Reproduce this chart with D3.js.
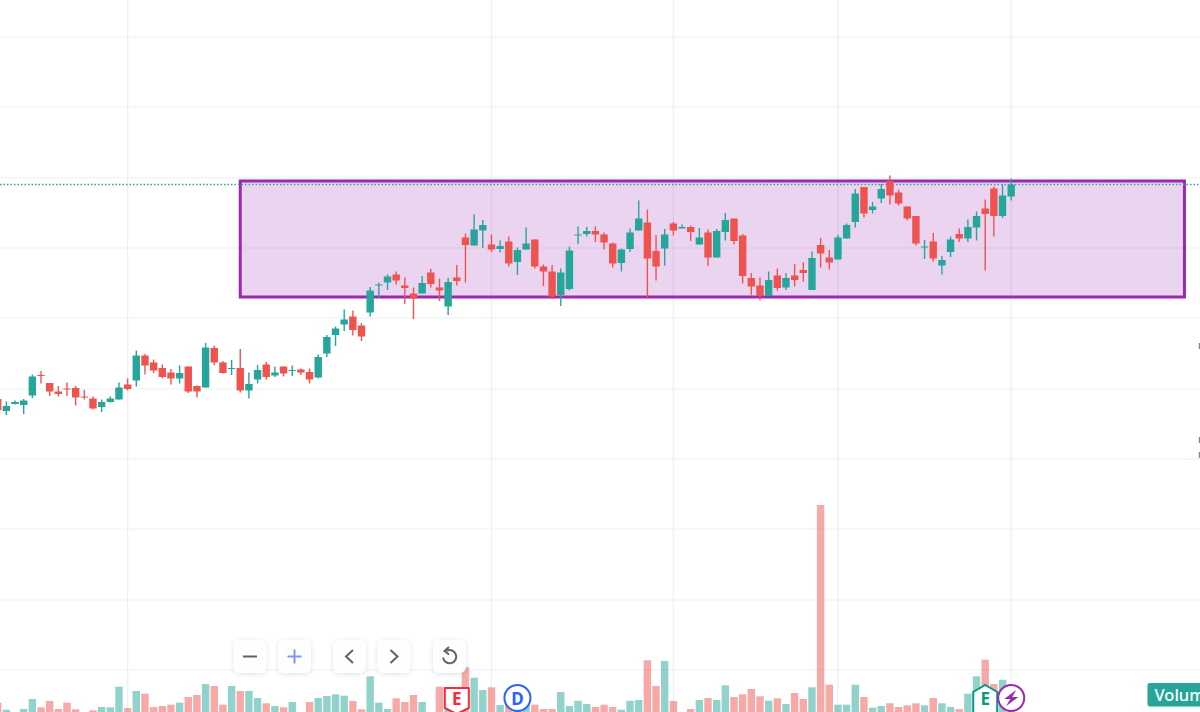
<!DOCTYPE html>
<html>
<head>
<meta charset="utf-8">
<title>Candles</title>
<script src="https://cdnjs.cloudflare.com/ajax/libs/d3/7.8.5/d3.min.js"></script>
<style>
html, body { margin: 0; padding: 0; background: #fff; overflow: hidden; }
svg { display: block; }
</style>
</head>
<body>
<div id="chart"></div>
<script>
var opens = [626,602,616,614,633,674,658,641,647,648,631,627,610,620,625,655,663,713,699,688,679,667,691,652,649,728,699,686,688,643,665,695,673,691,682,685,680,669,717,754,775,791,773,799,853,859,875,853,837,837,879,849,811,869,949,933,963,935,926,941,900,925,945,891,881,834,846,953,956,962,955,937,898,926,963,979,922,927,977,967,970,935,959,909,960,987,953,868,853,832,873,849,873,884,844,934,909,905,947,980,1050,1004,1027,1062,1039,1011,992,929,941,893,920,956,947,969,1007,1047,992,1031];
var highs = [628,621,623,626,675,682,658,652,659,652,644,631,625,631,659,667,723,716,705,695,686,693,691,653,738,733,702,704,726,679,694,700,691,691,693,687,687,715,754,771,805,803,778,850,859,875,881,869,849,872,886,867,868,894,957,995,984,955,943,951,929,969,945,895,894,887,931,971,970,971,959,939,927,967,1023,1005,954,966,980,975,973,968,965,966,998,987,956,878,869,881,887,878,896,899,921,948,924,954,977,1046,1050,1020,1056,1073,1045,1011,992,944,958,912,951,967,985,1001,1025,1051,1055,1067];
var lows = [602,594,615,596,628,657,632,631,632,613,625,605,600,619,625,643,651,675,678,667,655,657,638,629,649,694,677,674,639,627,657,665,670,671,672,674,657,667,710,732,762,753,742,791,829,844,855,816,786,837,849,822,794,853,859,933,928,920,919,891,874,925,887,852,826,812,843,936,951,940,925,889,881,920,963,827,863,893,953,967,942,935,892,909,943,935,857,834,823,832,843,844,851,861,844,889,885,905,947,969,989,997,1018,1015,1013,983,933,906,901,875,910,940,940,943,883,951,988,1023];
var closes = [604,612,620,623,671,672,641,636,645,629,629,607,620,627,649,646,713,693,683,670,667,678,641,641,729,699,678,688,643,656,684,670,679,677,684,679,665,710,750,767,785,764,751,843,855,871,863,848,827,858,856,843,860,862,934,965,974,925,932,897,924,937,891,881,831,879,923,955,962,955,939,897,925,959,987,907,891,955,963,970,960,949,909,962,984,942,872,851,832,864,848,868,864,878,908,917,899,949,974,1037,997,1011,1046,1033,1017,987,937,931,907,904,945,947,970,992,996,992,1033,1055];
var volumes = [133,63,30,70,170,87,150,70,133,67,30,57,90,87,293,80,250,223,90,100,113,133,190,210,320,300,113,300,250,250,180,127,100,87,140,30,140,180,200,217,203,150,67,397,133,70,177,140,210,140,30,293,160,120,487,383,260,287,110,220,200,120,113,70,70,240,100,153,120,90,113,90,63,153,160,557,300,550,150,30,70,160,180,160,307,190,217,270,197,153,177,120,230,170,287,2110,313,113,113,313,190,83,100,127,90,107,127,107,180,127,90,70,223,397,563,320,363,100];

var priceGrid = [1350,1210,1068,928,788,646,506,366,224,84];
var timeGrid = [15,57,78,97,117];
var lastPrice = 1055;

// the drawn box: first candle, last bar, upper and lower price
var boxFrom = 28, boxTo = 137, boxTop = 1062, boxBottom = 830;

var eventMarks = [
  { kind: "earningsDown", at: 53, label: "E" },
  { kind: "dividend", at: 60, label: "D" },
  { kind: "earningsUp", at: 114, label: "E" },
  { kind: "split", at: 117, label: "" }
];
var toolButtons = ["minus", "plus", "left", "right", "reset"];
var toolButtonX = [250, 294.5, 349.5, 394, 449.5];

var width = 1200, height = 712,
upColor = "#26a69a", downColor = "#ef5350",
barWidth = 7.4;

var data = d3.range(opens.length).map(function (i) {
  return { i: i, o: opens[i], h: highs[i], l: lows[i], c: closes[i], v: volumes[i] };
});

var x = d3.scaleLinear().domain([0, 117]).range([-2.3, 1011.2]);
var y = d3.scaleLinear().domain([0, 1424]).range([712, 0]);
var yVol = d3.scaleLinear().domain([0, 2110]).range([716, 505]);

var svg = d3.select("#chart").append("svg")
  .attr("width", width)
  .attr("height", height);

svg.append("rect").attr("width", width).attr("height", height).attr("fill", "#fff");

var defs = svg.append("defs");
var shadow = defs.append("filter").attr("id", "btnShadow")
  .attr("x", "-30%").attr("y", "-30%").attr("width", "160%").attr("height", "160%");
shadow.append("feDropShadow")
  .attr("dx", 0).attr("dy", 1).attr("stdDeviation", 2.5)
  .attr("flood-color", "#000").attr("flood-opacity", 0.13);

// grid
svg.append("g").selectAll("line").data(priceGrid).enter().append("line")
  .attr("x1", 0).attr("x2", width)
  .attr("y1", function (d) { return y(d); })
  .attr("y2", function (d) { return y(d); })
  .attr("stroke", "#eeeff2").attr("stroke-width", 1.2);

svg.append("g").selectAll("line").data(timeGrid).enter().append("line")
  .attr("y1", 0).attr("y2", height)
  .attr("x1", function (d) { return x(d); })
  .attr("x2", function (d) { return x(d); })
  .attr("stroke", "#eeeff2").attr("stroke-width", 1.2);

// volume
svg.append("g").selectAll("rect").data(data).enter().append("rect")
  .attr("x", function (d) { return x(d.i) - barWidth / 2; })
  .attr("width", barWidth)
  .attr("y", function (d) { return yVol(d.v); })
  .attr("height", function (d) { return yVol(0) - yVol(d.v); })
  .attr("fill", function (d) { return d.c >= d.o ? upColor : downColor; })
  .attr("fill-opacity", 0.5);

// box
svg.append("rect")
  .attr("x", x(boxFrom))
  .attr("y", y(boxTop))
  .attr("width", x(boxTo) - x(boxFrom))
  .attr("height", y(boxBottom) - y(boxTop))
  .attr("fill", "#9c27b0").attr("fill-opacity", 0.2)
  .attr("stroke", "#9c27b0").attr("stroke-width", 3);

// last price line
svg.append("line")
  .attr("x1", 0).attr("x2", width)
  .attr("y1", y(lastPrice)).attr("y2", y(lastPrice))
  .attr("stroke", "#26a69a").attr("stroke-width", 1.5)
  .attr("stroke-dasharray", "1.5 2");

// candles
var candle = svg.append("g").selectAll("g").data(data).enter().append("g")
  .attr("fill", function (d) { return d.c >= d.o ? upColor : downColor; })
  .attr("stroke", function (d) { return d.c >= d.o ? upColor : downColor; });

candle.append("line")
  .attr("x1", function (d) { return x(d.i); })
  .attr("x2", function (d) { return x(d.i); })
  .attr("y1", function (d) { return y(d.h); })
  .attr("y2", function (d) { return y(d.l); })
  .attr("stroke-width", 1.4);

candle.append("rect")
  .attr("x", function (d) { return x(d.i) - barWidth / 2; })
  .attr("width", barWidth)
  .attr("y", function (d) { return y(Math.max(d.o, d.c)); })
  .attr("height", function (d) { return Math.max(1, Math.abs(y(d.o) - y(d.c))); })
  .attr("stroke", "none");

// event marks
var markY = 698;
var marks = svg.append("g").selectAll("g").data(eventMarks).enter().append("g")
  .attr("transform", function (d) { return "translate(" + x(d.at) + "," + markY + ")"; });

marks.each(function (d) {
  var g = d3.select(this);
  var col = { earningsDown: "#f7293a", dividend: "#2962ff", earningsUp: "#089981", split: "#9c27b0" }[d.kind];
  if (d.kind === "earningsDown") {
    g.append("path")
      .attr("d", "M-12,-10 H12 V10 L0,16 L-12,10 Z")
      .attr("fill", "#fff").attr("stroke", col).attr("stroke-width", 2).attr("stroke-linejoin", "round");
  } else if (d.kind === "earningsUp") {
    g.append("path")
      .attr("d", "M-12,16 V-6 L0,-13 L12,-6 V16")
      .attr("fill", "#fff").attr("stroke", col).attr("stroke-width", 2);
  } else {
    g.append("circle").attr("r", 13)
      .attr("fill", "#fff").attr("stroke", col).attr("stroke-width", 2);
  }
  if (d.kind === "split") {
    g.append("path")
      .attr("d", "M5,-8 L-7,1 H-1 L-5,8 L7,-1 H1 Z")
      .attr("fill", col);
  } else {
    g.append("text")
      .attr("text-anchor", "middle")
      .attr("y", 6.5)
      .attr("font-family", "'Noto Sans', sans-serif")
      .attr("font-size", 17)
      .attr("font-weight", 700)
      .attr("fill", col)
      .text(d.label);
  }
});

// toolbar buttons
var buttons = svg.append("g").selectAll("g").data(toolButtons).enter().append("g")
  .attr("transform", function (d, i) { return "translate(" + toolButtonX[i] + ",656.5)"; });

buttons.append("rect")
  .attr("x", -16.5).attr("y", -16.5).attr("width", 33).attr("height", 33)
  .attr("rx", 6)
  .attr("fill", "#fff").attr("fill-opacity", 0.93)
  .attr("filter", "url(#btnShadow)");

buttons.append("path")
  .attr("d", function (d) {
    return {
      minus: "M-7,0 H7",
      plus: "M-7,0 H7 M0,-7 V7",
      left: "M3.5,-6.5 L-3.5,0 L3.5,6.5",
      right: "M-3.5,-6.5 L3.5,0 L-3.5,6.5",
      reset: "M-3,-5.6 A6.6,6.6 0 1 1 -6.4,1"
    }[d];
  })
  .attr("fill", "none")
  .attr("stroke", function (d) { return d === "plus" ? "#7d97ee" : "#5f6368"; })
  .attr("stroke-width", 2);

buttons.filter(function (d) { return d === "reset"; }).append("path")
  .attr("d", "M-0.5,-9.5 L-5,-5.5 L-0.5,-2")
  .attr("fill", "none").attr("stroke", "#5f6368").attr("stroke-width", 2);

// Volume tag, runs off the right side
svg.append("rect")
  .attr("x", 1147.5).attr("y", 683).attr("width", 70).attr("height", 23.5)
  .attr("rx", 2.5)
  .attr("fill", "#26a69a");

svg.append("text")
  .attr("x", 1154.5).attr("y", 701)
  .attr("font-family", "'Noto Sans', sans-serif")
  .attr("font-size", 16.5)
  .attr("font-weight", 500)
  .attr("fill", "#fff")
  .text("Volume");

// slivers of the cut off price labels
svg.append("g").selectAll("rect").data([343, 437, 452]).enter().append("rect")
  .attr("x", 1198.8).attr("width", 1.2).attr("y", function (d) { return d; }).attr("height", 6)
  .attr("fill", "#50535e").attr("fill-opacity", 0.7);
</script>
</body>
</html>
